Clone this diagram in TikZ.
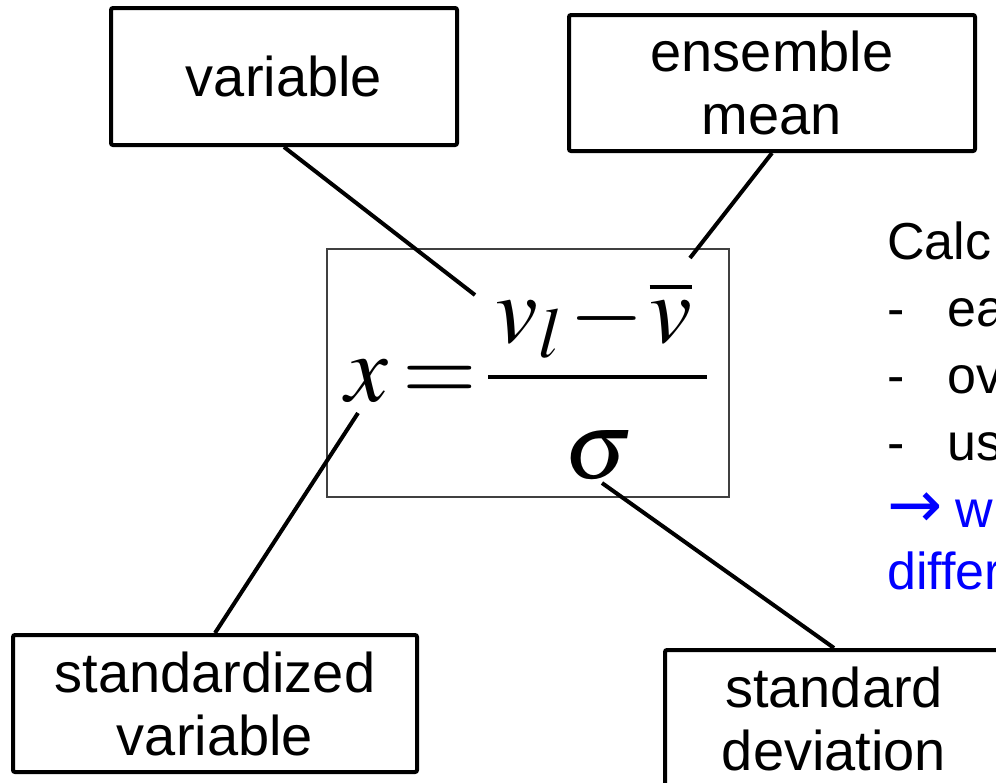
\documentclass[tikz,border=0pt]{standalone}
\usepackage{mathptmx}
\usepackage[no-math]{fontspec}
\usepackage{tikz}
\usetikzlibrary{positioning,calc}
\newfontfamily\arialfont{Liberation Sans}
\newfontfamily\arrowfont{DejaVu Sans}
\definecolor{noteblue}{HTML}{0000FF}

\begin{document}
\begin{tikzpicture}[x=0.5pt,y=-0.5pt,
  lbl/.style={draw,line width=2pt,rounded corners=1pt,align=center,inner sep=0pt,
              font=\arialfont\fontsize{28}{31.5}\selectfont},
  link/.style={line width=2pt},
  sym/.style={inner sep=0pt,font=\fontsize{48}{48}\selectfont}]
\useasboundingbox (0,0) rectangle (996,782);
\clip (0,0) rectangle (996,782);
% labels
\node[lbl,minimum width=173pt,minimum height=68.5pt] (var) at (284,76.5) {variable};
\node[lbl,minimum width=203pt,minimum height=68pt] (ens) at (772,83) {ensemble\\mean};
\node[lbl,minimum width=202pt,minimum height=68.5pt] (stdvar) at (215,703.5) {standardized\\variable};
\node[lbl,minimum width=169pt,minimum height=69pt] (stddev) at (834,719) {standard\\deviation};
% equation
\node[draw=black!75,line width=0.75pt,minimum width=201pt,minimum height=124pt] (frame) at (528,373) {};
\node[sym,anchor=base] (xs) at (367,401) {$x$};
\node[sym,anchor=base] (eqs) at (440,401) {$=$};
\node[sym,anchor=base west] (vl) at (495,342) {$v_l$};
\node[sym,anchor=base] (mns) at (607,342) {$-$};
\node[sym,anchor=base] (vb) at (671,342) {$\overline{v}$};
\node[sym,anchor=base] (sg) at (599,478) {$\sigma$};
\draw[line width=2pt] (488,377) -- (707,377);
% pointers
\coordinate (vltip) at (475,295);
\coordinate (vbtip) at (690,258);
\coordinate (xtip) at (358,413);
\coordinate (sgtip) at (602,483);
\draw[link] (var.south) -- (vltip);
\draw[link] (ens.south) -- (vbtip);
\draw[link] (stdvar.north) -- (xtip);
\draw[link] (stddev.north) -- (sgtip);
% notes at the right
\node[anchor=north west,align=left,inner sep=0pt,
      font=\arialfont\fontsize{26}{33.5}\selectfont] (calc) at (887,221)
  {Calc\\\makebox[30pt][l]{-}ea\\\makebox[30pt][l]{-}ov\\\makebox[30pt][l]{-}us\\
   \textcolor{noteblue}{\makebox[34pt][l]{\arrowfont\fontsize{33}{33}\selectfont →}w}\\[-2.5pt]\textcolor{noteblue}{differ}};
\end{tikzpicture}
\end{document}
